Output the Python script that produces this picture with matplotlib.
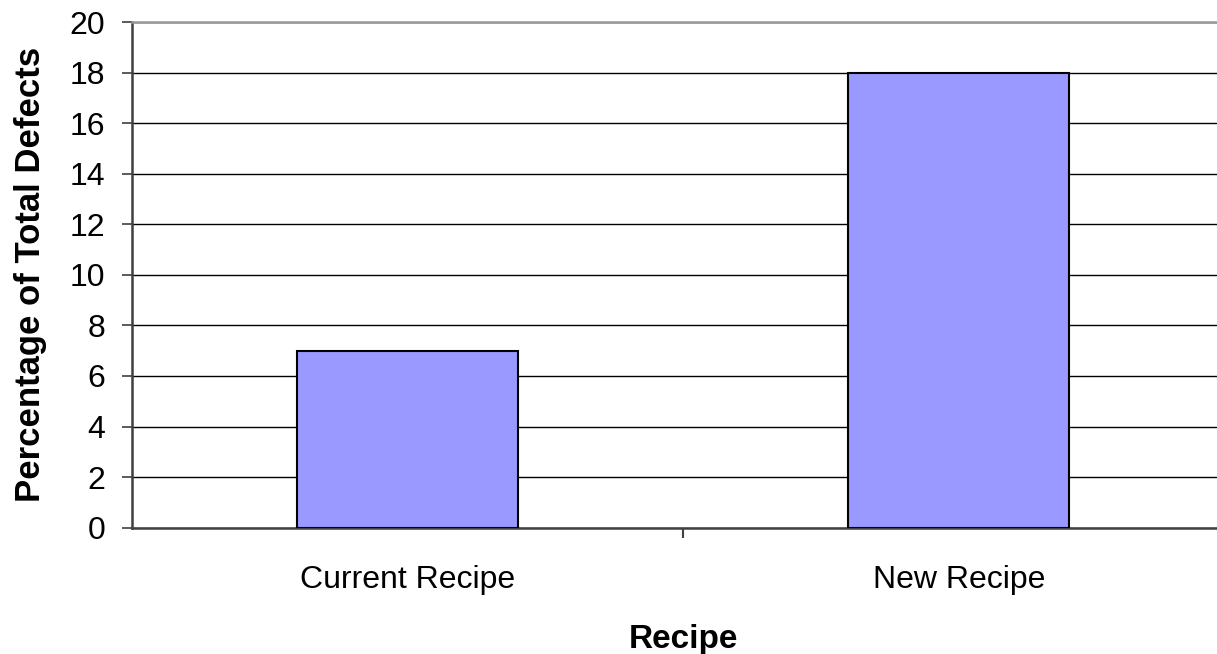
import matplotlib
matplotlib.use("Agg")
import matplotlib.pyplot as plt
from matplotlib.ticker import FixedLocator

categories = ["Current Recipe", "New Recipe"]
defect_pct = [7, 18]
y_ticks = [0, 2, 4, 6, 8, 10, 12, 14, 16, 18, 20]

plt.rcParams["font.family"] = ["Liberation Sans", "DejaVu Sans"]

W, H = 1217, 654
fig = plt.figure(figsize=(W / 100, H / 100), dpi=100)
left, bottom_px, top_px = 131.5, 527.7, 22.0
slot = 551.5
ax = fig.add_axes([left / W, (H - bottom_px) / H, 2 * slot / W, (bottom_px - top_px) / H])

x = [i + 0.5 for i in range(len(categories))]
ax.bar(x, defect_pct, width=0.4, color="#9999FF", edgecolor="black", linewidth=1.5, zorder=3)

ax.set_xlim(0, len(categories))
ax.set_ylim(0, 20)
ax.set_yticks(y_ticks)
ax.yaxis.grid(True, color="black", linewidth=1.0, zorder=0)
ax.set_axisbelow(True)

ax.set_xticks(x)
ax.set_xticklabels(categories)
ax.xaxis.set_minor_locator(FixedLocator([1]))
ax.tick_params(axis="x", which="major", length=0, pad=27, labelsize=23)
ax.tick_params(axis="x", which="minor", length=7, width=1.5, color="#404040", direction="out")
ax.tick_params(axis="y", length=7, width=1.2, color="#404040", pad=12, labelsize=23)

for s in ("left", "bottom"):
    ax.spines[s].set_color("#404040")
    ax.spines[s].set_linewidth(1.8)
ax.spines["top"].set_color("#999999")
ax.spines["top"].set_linewidth(1.8)
ax.spines["right"].set_visible(False)

ax.set_xlabel("Recipe", fontsize=24, fontweight="bold", labelpad=21)
ax.set_ylabel("Percentage of Total Defects", fontsize=25, fontweight="bold", labelpad=16)

fig.savefig("out.png", dpi=100)
